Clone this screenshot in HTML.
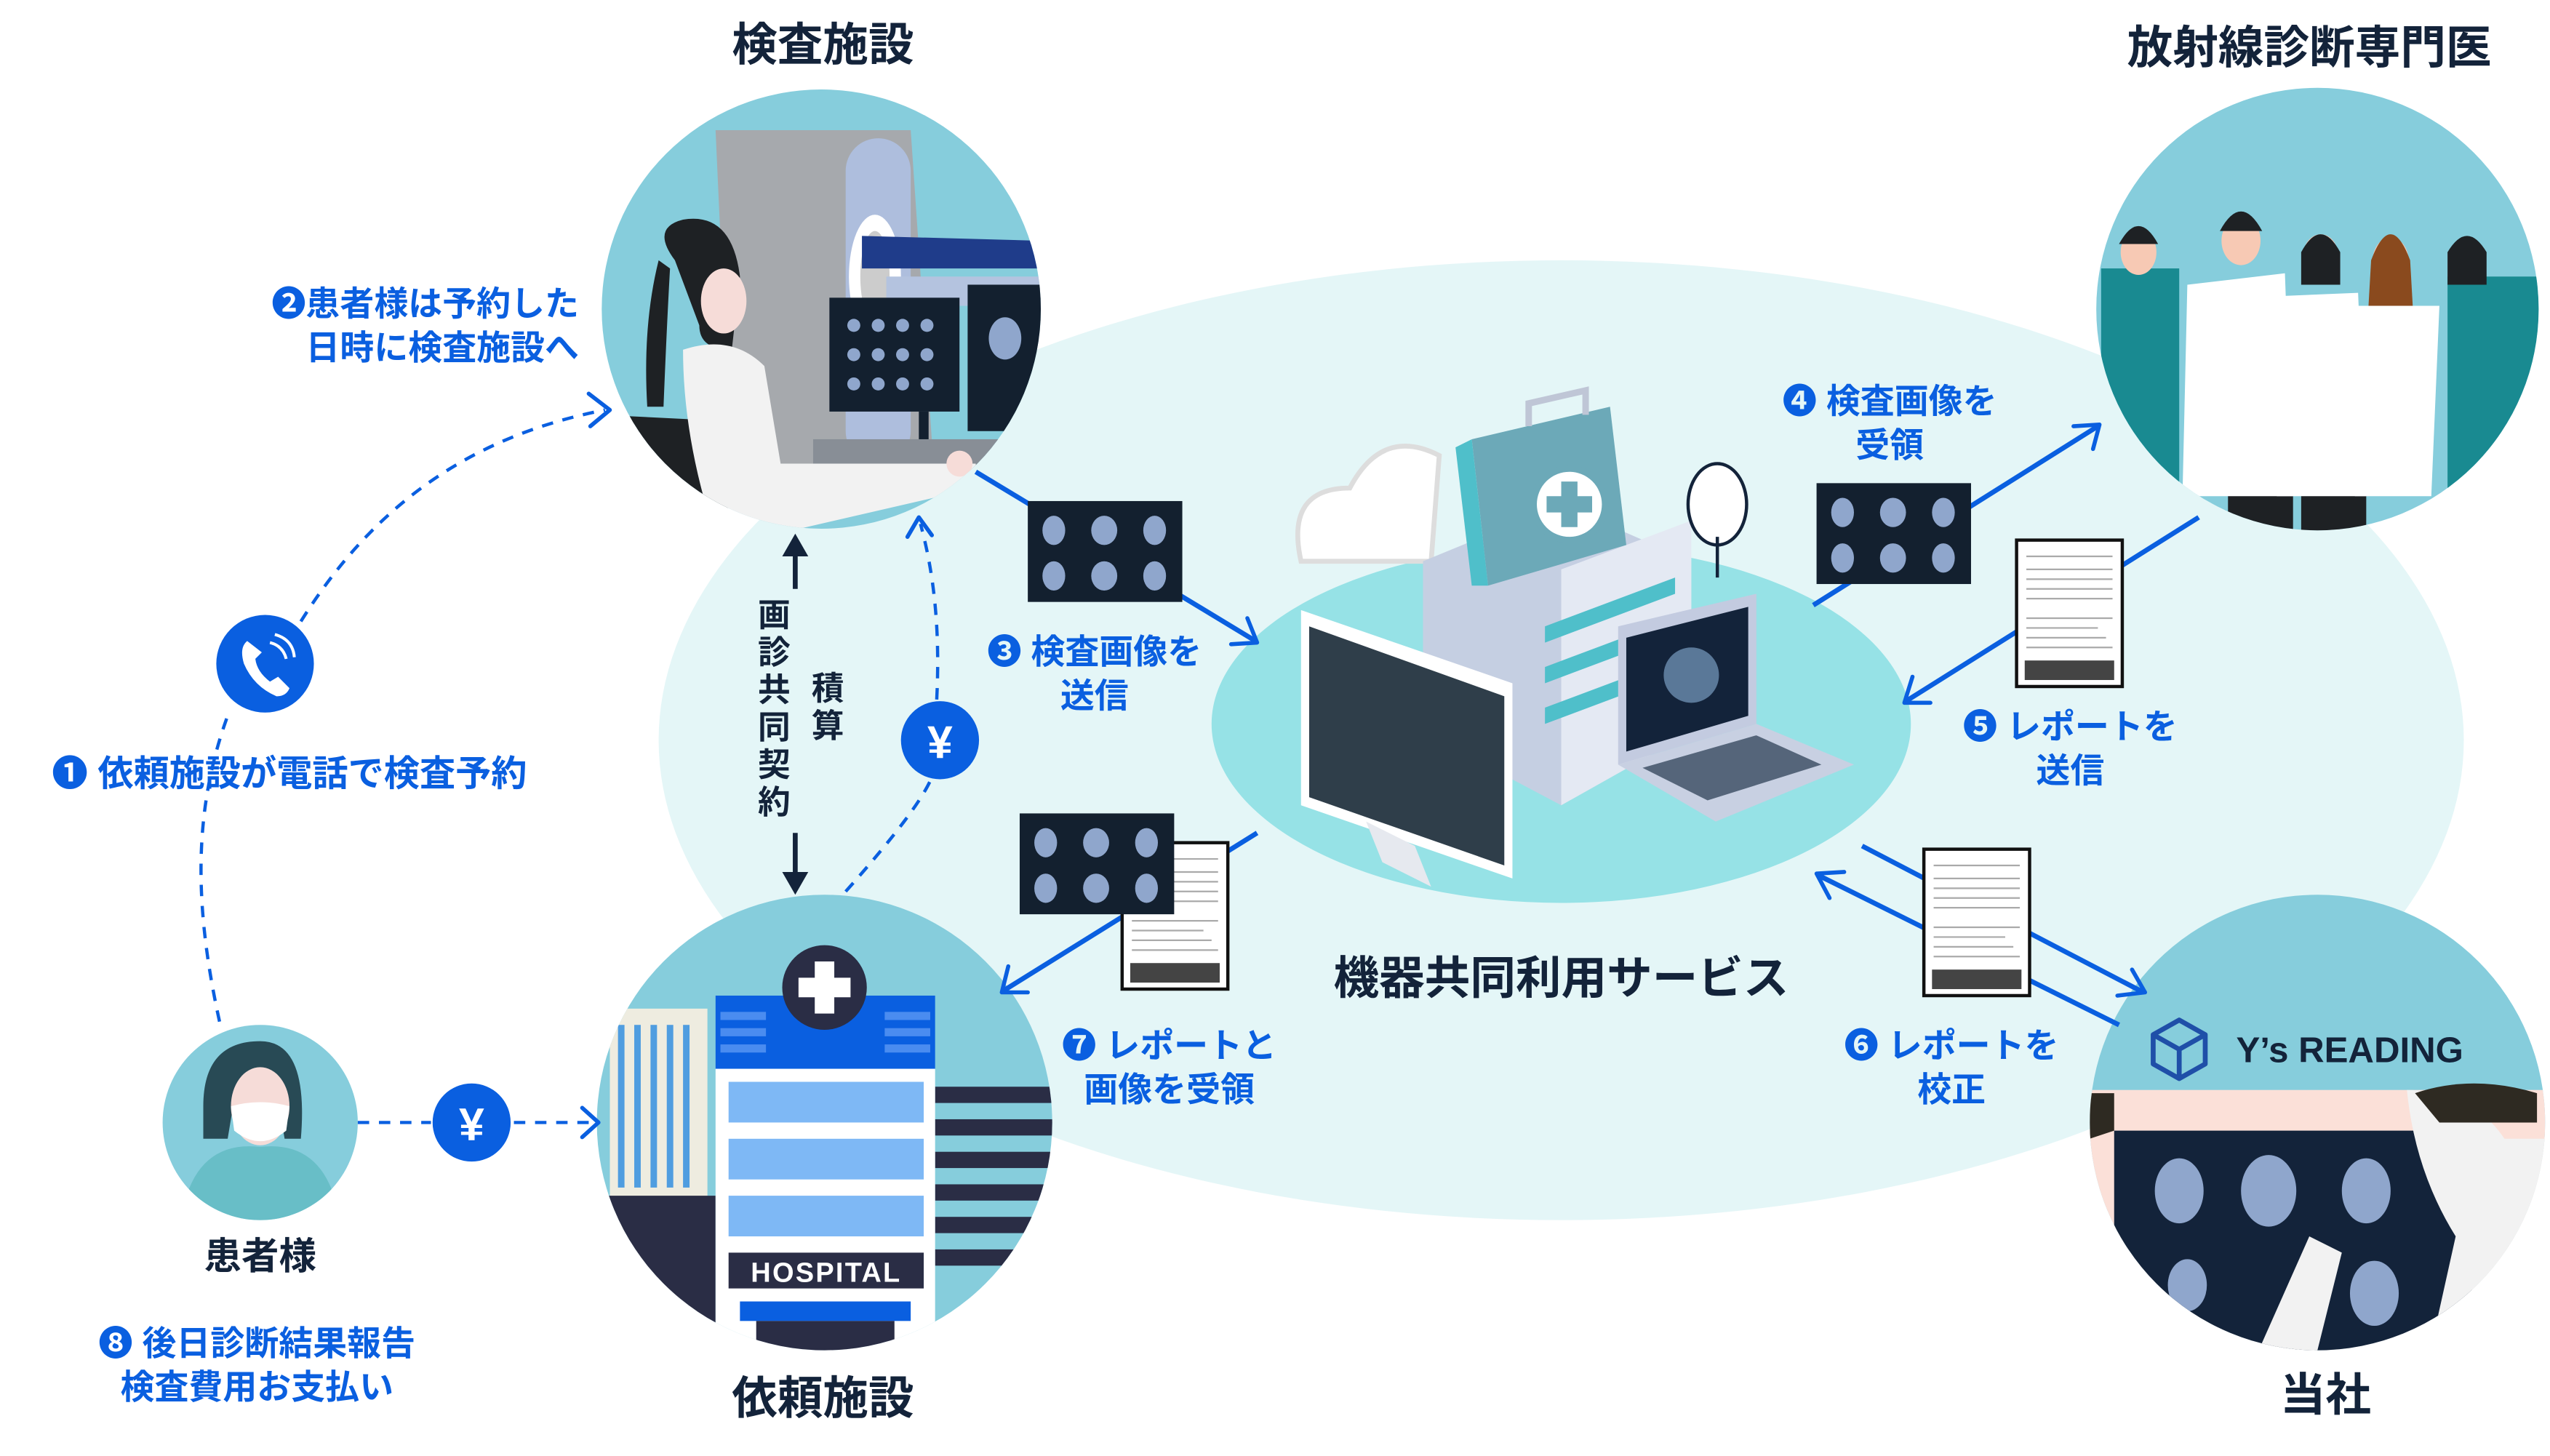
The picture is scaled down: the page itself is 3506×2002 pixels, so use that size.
<!DOCTYPE html>
<html><head><meta charset="utf-8"><style>
html,body{margin:0;padding:0;background:#fff;}
svg{display:block;}
text{font-family:"Liberation Sans","Noto Sans CJK JP",sans-serif;font-weight:bold;}
.t{fill:#13233a;font-size:28px;text-anchor:middle;}
.b{fill:#0a5fe0;font-size:21px;text-anchor:middle;}
.e{text-anchor:end;}
.dash{fill:none;stroke:#0a5fe0;stroke-width:2;stroke-dasharray:7 6;}
.sol{fill:none;stroke:#0a5fe0;stroke-width:3;}
.ah{fill:none;stroke:#0a5fe0;stroke-width:2.5;stroke-linecap:round;stroke-linejoin:round;}
</style></head><body>
<svg width="3506" height="2002" viewBox="0 0 1568 895" preserveAspectRatio="none" xmlns="http://www.w3.org/2000/svg">
<defs>
<clipPath id="c1"><circle cx="505" cy="190" r="135"/></clipPath>
<clipPath id="c2"><circle cx="507" cy="690" r="140"/></clipPath>
<clipPath id="c3"><circle cx="1425" cy="190" r="136"/></clipPath>
<clipPath id="c4"><circle cx="1425" cy="690" r="140"/></clipPath>
<clipPath id="c5"><circle cx="160" cy="690" r="60"/></clipPath>
<g id="thumb">
<rect width="95" height="62" fill="#13202f"/>
<g fill="#8fa6cc"><ellipse cx="16" cy="18" rx="7" ry="9"/><ellipse cx="47" cy="18" rx="8" ry="9"/><ellipse cx="78" cy="18" rx="7" ry="9"/><ellipse cx="16" cy="46" rx="7" ry="9"/><ellipse cx="47" cy="46" rx="8" ry="9"/><ellipse cx="78" cy="46" rx="7" ry="9"/></g>
</g>
<g id="doc">
<rect width="65" height="90" fill="#fff" stroke="#111" stroke-width="2"/>
<g stroke="#aaa" stroke-width="1"><line x1="6" y1="10" x2="59" y2="10"/><line x1="6" y1="18" x2="59" y2="18"/><line x1="6" y1="24" x2="59" y2="24"/><line x1="6" y1="30" x2="59" y2="30"/><line x1="6" y1="36" x2="59" y2="36"/><line x1="6" y1="48" x2="59" y2="48"/><line x1="6" y1="54" x2="50" y2="54"/><line x1="6" y1="60" x2="55" y2="60"/><line x1="6" y1="66" x2="59" y2="66"/></g>
<rect x="5" y="74" width="55" height="12" fill="#444"/>
</g>
</defs>

<ellipse cx="960" cy="455" rx="555" ry="295" fill="#e4f6f7"/>
<ellipse cx="960" cy="445" rx="215" ry="110" fill="#96e2e6"/>

<path d="M800,345 Q790,300 830,300 Q850,262 885,280 L880,345 Z" fill="#fff" stroke="#ddd" stroke-width="3"/>
<path d="M875,345 L960,310 L1040,345 L1040,450 L960,495 L875,450 Z" fill="#c5cfe2"/>
<path d="M960,350 L1040,320 L1040,450 L960,495 Z" fill="#e4e9f3"/>
<g fill="#4fbfca"><path d="M950,385 L1030,355 L1030,365 L950,395Z"/><path d="M950,410 L1030,380 L1030,390 L950,420Z"/><path d="M950,435 L1030,405 L1030,415 L950,445Z"/></g>
<path d="M905,270 L990,250 L1000,335 L915,360 Z" fill="#6ca9b8"/>
<path d="M905,270 L915,360 L905,360 L895,275 Z" fill="#4fbfca"/>
<circle cx="965" cy="310" r="22" fill="#fff" stroke="#6ca9b8" stroke-width="4"/>
<path d="M960,296h10v9h9v10h-9v9h-10v-9h-9v-10h9z" fill="#6ca9b8"/>
<path d="M940,262 L940,248 L975,240 L975,255" fill="none" stroke="#bfc6d6" stroke-width="4"/>
<ellipse cx="1056" cy="310" rx="18" ry="25" fill="#fff" stroke="#13233a" stroke-width="2"/>
<line x1="1056" y1="330" x2="1056" y2="355" stroke="#13233a" stroke-width="2"/>
<path d="M800,375 L930,420 L930,540 L800,495 Z" fill="#ffffff"/>
<path d="M805,385 L925,428 L925,532 L805,490 Z" fill="#2f3e4a"/>
<path d="M840,505 L850,530 L880,545 L870,520Z" fill="#e6e9ef"/>
<path d="M995,385 L1080,365 L1080,445 L995,470 Z" fill="#c3cbe0"/>
<path d="M1000,392 L1075,373 L1075,440 L1000,462 Z" fill="#13233a"/>
<circle cx="1040" cy="415" r="17" fill="#5a7898"/>
<path d="M995,470 L1080,445 L1140,470 L1055,505 Z" fill="#c8d0e2"/>
<path d="M1010,472 L1080,452 L1120,470 L1050,492 Z" fill="#55657a"/>

<circle cx="505" cy="190" r="135" fill="#86cddc"/>
<circle cx="507" cy="690" r="140" fill="#86cddc"/>
<circle cx="1425" cy="190" r="136" fill="#86cddc"/>
<circle cx="1425" cy="690" r="140" fill="#86cddc"/>
<circle cx="160" cy="690" r="60" fill="#86cddc"/>

<g clip-path="url(#c1)">
<path d="M440,80 L560,80 L575,300 L450,300 Z" fill="#a6a9ad"/>
<rect x="520" y="85" width="40" height="200" rx="20" fill="#aebedd"/>
<ellipse cx="538" cy="170" rx="16" ry="38" fill="#fff"/>
<ellipse cx="538" cy="170" rx="9" ry="28" fill="#ccc"/>
<rect x="545" y="170" width="100" height="18" fill="#b4c3df"/>
<path d="M530,145 L640,148 L640,165 L530,165 Z" fill="#1f3c8a"/>
<rect x="510" y="183" width="80" height="70" fill="#13202f"/>
<rect x="595" y="175" width="50" height="90" fill="#13202f"/>
<g fill="#8fa6cc"><circle cx="525" cy="200" r="4"/><circle cx="540" cy="200" r="4"/><circle cx="555" cy="200" r="4"/><circle cx="570" cy="200" r="4"/><circle cx="525" cy="218" r="4"/><circle cx="540" cy="218" r="4"/><circle cx="555" cy="218" r="4"/><circle cx="570" cy="218" r="4"/><circle cx="525" cy="236" r="4"/><circle cx="540" cy="236" r="4"/><circle cx="555" cy="236" r="4"/><circle cx="570" cy="236" r="4"/><ellipse cx="618" cy="208" rx="10" ry="13"/></g>
<rect x="565" y="253" width="6" height="18" fill="#13202f"/>
<rect x="500" y="270" width="150" height="20" fill="#888e96"/>
<path d="M370,255 L470,260 L440,330 L370,330 Z" fill="#1e2124"/>
<path d="M415,160 Q400,140 420,135 Q450,130 455,170 L450,215 Q430,215 430,200 Z" fill="#1e2124"/>
<path d="M405,160 Q395,200 398,250 L408,250 Q410,200 412,165 Z" fill="#1e2124"/>
<ellipse cx="445" cy="185" rx="14" ry="20" fill="#f6dcd8"/>
<path d="M420,215 Q450,205 470,225 L480,285 L600,285 L600,300 L470,330 L440,330 Q420,270 420,215 Z" fill="#f2f2f2"/>
<circle cx="590" cy="285" r="8" fill="#f6dcd8"/>
</g>

<g clip-path="url(#c2)">
<rect x="375" y="620" width="60" height="200" fill="#eeece0"/>
<g fill="#4f9de0"><rect x="380" y="630" width="4" height="100"/><rect x="390" y="630" width="4" height="100"/><rect x="400" y="630" width="4" height="100"/><rect x="410" y="630" width="4" height="100"/><rect x="420" y="630" width="4" height="100"/></g>
<rect x="360" y="735" width="80" height="80" fill="#2a2d45"/>
<g fill="#2a2d45"><rect x="575" y="668" width="80" height="10"/><rect x="575" y="688" width="80" height="10"/><rect x="575" y="708" width="80" height="10"/><rect x="575" y="728" width="80" height="10"/><rect x="575" y="748" width="80" height="10"/><rect x="575" y="768" width="80" height="10"/></g>
<rect x="440" y="612" width="135" height="45" fill="#0a5fe0"/>
<g fill="#4a8cf0"><rect x="443" y="622" width="28" height="5"/><rect x="443" y="632" width="28" height="5"/><rect x="443" y="642" width="28" height="5"/><rect x="544" y="622" width="28" height="5"/><rect x="544" y="632" width="28" height="5"/><rect x="544" y="642" width="28" height="5"/></g>
<rect x="440" y="657" width="135" height="180" fill="#fff"/>
<g fill="#7eb8f5"><rect x="448" y="665" width="120" height="25"/><rect x="448" y="700" width="120" height="25"/><rect x="448" y="735" width="120" height="25"/></g>
<rect x="448" y="770" width="120" height="22" fill="#2a2d45"/>
<text x="508" y="788" fill="#fff" font-size="17" text-anchor="middle" letter-spacing="1">HOSPITAL</text>
<rect x="455" y="800" width="105" height="12" fill="#0a5fe0"/>
<rect x="465" y="812" width="85" height="20" fill="#2a2d45"/>
</g>
<circle cx="507" cy="607" r="26" fill="#2a2d45"/>
<path d="M501,591h12v10h10v12h-10v10h-12v-10h-10v-12h10z" fill="#fff"/>

<g clip-path="url(#c3)">
<g fill="#198a91"><rect x="1292" y="165" width="48" height="180"/><rect x="1505" y="170" width="60" height="180"/></g>
<g fill="#f7c9b4"><ellipse cx="1315" cy="155" rx="11" ry="14"/><ellipse cx="1378" cy="148" rx="12" ry="15"/><ellipse cx="1427" cy="158" rx="11" ry="14"/><ellipse cx="1470" cy="160" rx="11" ry="14"/><ellipse cx="1517" cy="160" rx="11" ry="14"/></g>
<g fill="#1e2124"><path d="M1303,150 Q1315,128 1327,150Z"/><path d="M1365,142 Q1378,118 1391,142Z"/><path d="M1415,155 Q1427,133 1439,155 L1439,175 L1415,175Z"/><path d="M1505,155 Q1517,135 1529,155 L1529,175 L1505,175Z"/><rect x="1370" y="295" width="40" height="50"/><rect x="1415" y="295" width="40" height="50"/></g>
<path d="M1458,160 Q1470,128 1482,160 L1484,195 L1456,195Z" fill="#8a4a1e"/>
<g fill="#fff"><path d="M1345,175 L1405,168 L1410,305 L1342,305 Z"/><path d="M1402,182 L1450,180 L1455,305 L1400,305 Z"/><path d="M1448,188 L1500,188 L1495,305 L1448,305 Z"/></g>
</g>

<g clip-path="url(#c4)">
<rect x="1285" y="670" width="290" height="170" fill="#fbe0d8"/>
<rect x="1300" y="695" width="220" height="150" fill="#13233a"/>
<g fill="#8fa6cc"><ellipse cx="1340" cy="732" rx="15" ry="20"/><ellipse cx="1395" cy="732" rx="17" ry="22"/><ellipse cx="1455" cy="732" rx="15" ry="20"/><ellipse cx="1345" cy="790" rx="12" ry="16"/><ellipse cx="1460" cy="795" rx="15" ry="20"/></g>
<path d="M1480,670 Q1520,670 1540,700 L1570,700 L1570,850 L1490,850 L1510,760 Q1485,720 1480,670 Z" fill="#f2f2f2"/>
<path d="M1485,672 Q1520,660 1560,672 L1560,690 L1500,690Z" fill="#2e2a22"/>
<path d="M1380,850 L1420,760 L1440,770 L1420,850 Z" fill="#f2f2f2"/>
<path d="M1285,672 L1300,672 L1300,695 L1285,700Z" fill="#2e2a22"/>
</g>
<path d="M1340,627 L1356,636 L1356,654 L1340,663 L1324,654 L1324,636 Z M1324,636 L1340,645 L1356,636 M1340,645 L1340,663" fill="none" stroke="#1f4fa8" stroke-width="3" stroke-linejoin="round"/>
<text x="1375" y="653" fill="#13233a" font-size="22">Y’s READING</text>

<g clip-path="url(#c5)">
<path d="M110,760 Q115,700 160,705 Q205,700 210,760 Z" fill="#68bec7"/>
<path d="M125,680 Q125,640 160,640 Q190,640 185,700 L175,700 L170,670 L145,670 L140,700 L125,700 Z" fill="#284a55"/>
<ellipse cx="160" cy="680" rx="18" ry="24" fill="#f6dcd8"/>
<path d="M142,680 Q160,675 178,680 L176,695 Q160,708 144,695 Z" fill="#fff"/>
</g>

<path class="dash" d="M135,628 C120,560 118,500 140,440"/>
<path class="dash" d="M185,382 C230,310 290,268 372,252"/>
<path class="ah" d="M362,242 L375,252 L363,262"/>
<path class="dash" d="M520,548 C545,520 565,495 572,480"/>
<path class="dash" d="M576,430 C578,390 575,355 566,322"/>
<path class="ah" d="M558,330 L565,318 L573,329"/>
<path class="dash" d="M220,690 L265,690"/><path class="dash" d="M316,690 L365,690"/>
<path class="ah" d="M358,681 L368,690 L358,699"/>
<line x1="489" y1="362" x2="489" y2="338" stroke="#13233a" stroke-width="3"/>
<path d="M481,342 L489,328 L497,342Z" fill="#13233a"/>
<line x1="489" y1="512" x2="489" y2="538" stroke="#13233a" stroke-width="3"/>
<path d="M481,536 L489,550 L497,536Z" fill="#13233a"/>

<line class="sol" x1="600" y1="290" x2="772" y2="394"/>
<path class="ah" d="M757,396 L773,395 L767,380" stroke-width="3"/>
<line class="sol" x1="1115" y1="372" x2="1290" y2="262"/>
<path class="ah" d="M1275,262 L1291,261 L1287,276" stroke-width="3"/>
<line class="sol" x1="1352" y1="318" x2="1172" y2="431"/>
<path class="ah" d="M1176,416 L1171,432 L1187,432" stroke-width="3"/>
<line class="sol" x1="1145" y1="520" x2="1318" y2="610"/>
<path class="ah" d="M1302,612 L1319,610 L1311,596" stroke-width="3"/>
<line class="sol" x1="1303" y1="630" x2="1118" y2="538"/>
<path class="ah" d="M1125,552 L1117,537 L1134,536" stroke-width="3"/>
<line class="sol" x1="773" y1="512" x2="617" y2="609"/>
<path class="ah" d="M620,594 L616,610 L632,610" stroke-width="3"/>

<use href="#thumb" x="632" y="308"/>
<use href="#thumb" x="1117" y="297"/>
<use href="#doc" x="1240" y="332"/>
<use href="#doc" x="1183" y="522"/>
<use href="#doc" x="690" y="518"/>
<use href="#thumb" x="627" y="500"/>

<circle cx="163" cy="408" r="30" fill="#0a5fe0"/>
<path d="M152,394 Q147,398 150,408 Q156,422 170,428 Q176,428 178,423 L171,416 L166,419 Q158,413 157,405 L161,401 Z" fill="#fff"/>
<path d="M166,395 Q174,397 176,405 M169,390 Q180,393 181,404" stroke="#fff" stroke-width="1.8" fill="none"/>
<circle cx="578" cy="455" r="24" fill="#0a5fe0"/>
<text x="578" y="466" fill="#fff" font-size="28" text-anchor="middle">¥</text>
<circle cx="290" cy="690" r="24" fill="#0a5fe0"/>
<text x="290" y="701" fill="#fff" font-size="28" text-anchor="middle">¥</text>

<text class="t" x="506" y="37">検査施設</text>
<text class="t" x="1420" y="39" font-size="29">放射線診断専門医</text>
<text class="t" x="506" y="869">依頼施設</text>
<text class="t" x="1430" y="867">当社</text>
<text class="t" x="160" y="780" style="font-size:23px">患者様</text>
<text class="t" x="960" y="611">機器共同利用サービス</text>

<g fill="#13233a" font-size="20" text-anchor="middle">
<text x="476" y="385">画</text><text x="476" y="408">診</text><text x="476" y="431">共</text><text x="476" y="454">同</text><text x="476" y="477">契</text><text x="476" y="500">約</text>
<text x="509" y="430">積</text><text x="509" y="453">算</text>
</g>

<text class="b e" x="356" y="194">❷患者様は予約した</text>
<text class="b e" x="356" y="221">日時に検査施設へ</text>
<text class="b" x="178" y="483" style="font-size:22px">❶ 依頼施設が電話で検査予約</text>
<text class="b" x="673" y="408">❸ 検査画像を</text>
<text class="b" x="673" y="435">送信</text>
<text class="b" x="1162" y="254">❹ 検査画像を</text>
<text class="b" x="1162" y="281">受領</text>
<text class="b" x="1273" y="454">❺ レポートを</text>
<text class="b" x="1273" y="481">送信</text>
<text class="b" x="1200" y="650">❻ レポートを</text>
<text class="b" x="1200" y="677">校正</text>
<text class="b" x="719" y="650">❼ レポートと</text>
<text class="b" x="719" y="677">画像を受領</text>
<text class="b" x="158" y="833">❽ 後日診断結果報告</text>
<text class="b" x="158" y="860">検査費用お支払い</text>
</svg>
</body></html>
